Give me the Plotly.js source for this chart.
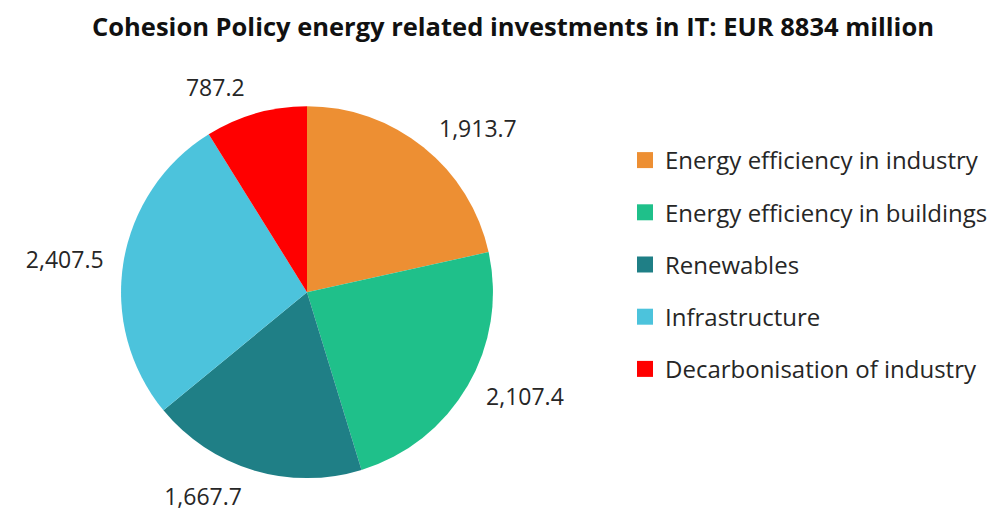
<!DOCTYPE html>
<html>
<head>
<meta charset="utf-8">
<script src="https://cdn.plot.ly/plotly-3.0.1.min.js"></script>
<style>html,body{margin:0;padding:0;background:#fff;}#chart{width:1000px;height:513px;}</style>
</head>
<body>
<div id="chart"></div>
<script>
const categories = ["Energy efficiency in industry", "Energy efficiency in buildings", "Renewables", "Infrastructure", "Decarbonisation of industry"];
const values = [1913.7, 2107.4, 1667.7, 2407.5, 787.2];
const colors = ["#ED8F33", "#1FC08A", "#1F7F86", "#4CC3DC", "#FF0000"];
const titleText = "Cohesion Policy energy related investments in IT: EUR 8834 million";

const FONT = "'Open Sans', 'Liberation Sans', sans-serif";
const TXT = "#262626";

// visible pie (no text)
const pieTrace = {
  type: "pie",
  labels: categories,
  values: values,
  sort: false,
  direction: "clockwise",
  rotation: 0,
  marker: { colors: colors, line: { width: 0 } },
  textinfo: "none",
  domain: { x: [0.121, 0.493], y: [0.068, 0.793] },
  hoverinfo: "label+value",
  showlegend: false
};

// transparent, slightly larger pie that carries the value labels outside
const labelTrace = {
  type: "pie",
  labels: categories,
  values: values,
  sort: false,
  direction: "clockwise",
  rotation: 0,
  marker: { colors: categories.map(() => "rgba(0,0,0,0)"), line: { width: 0 } },
  texttemplate: "%{value:,.1f}",
  textposition: "outside",
  outsidetextfont: { family: FONT, size: 23, color: TXT },
  domain: { x: [0.109, 0.505], y: [0.045, 0.817] },
  hoverinfo: "skip",
  showlegend: false
};

// legend entries
const legendTraces = categories.map((c, i) => ({
  type: "scatter",
  x: [null], y: [null],
  mode: "markers",
  name: c,
  legendgroup: "g" + i,
  marker: { symbol: "square", size: 17, color: colors[i] },
  showlegend: true,
  hoverinfo: "skip"
}));

const layout = {
  width: 1000,
  height: 513,
  margin: { l: 0, r: 0, t: 0, b: 0 },
  paper_bgcolor: "#ffffff",
  plot_bgcolor: "rgba(0,0,0,0)",
  title: {
    text: "<b>" + titleText + "</b>",
    font: { family: FONT, size: 25.5, color: "#111111" },
    x: 0.513, xanchor: "center",
    y: 0.947, yanchor: "middle", yref: "container"
  },
  xaxis: { visible: false, domain: [0.99, 1] },
  yaxis: { visible: false, domain: [0.99, 1] },
  legend: {
    x: 0.625, xanchor: "left",
    y: 0.731, yanchor: "top",
    traceorder: "grouped",
    tracegroupgap: 18,
    itemsizing: "trace",
    font: { family: FONT, size: 24, color: TXT },
    itemclick: false
  },
  showlegend: true
};

Plotly.newPlot("chart", [pieTrace, labelTrace].concat(legendTraces), layout, { displayModeBar: false, staticPlot: true });
</script>
</body>
</html>
